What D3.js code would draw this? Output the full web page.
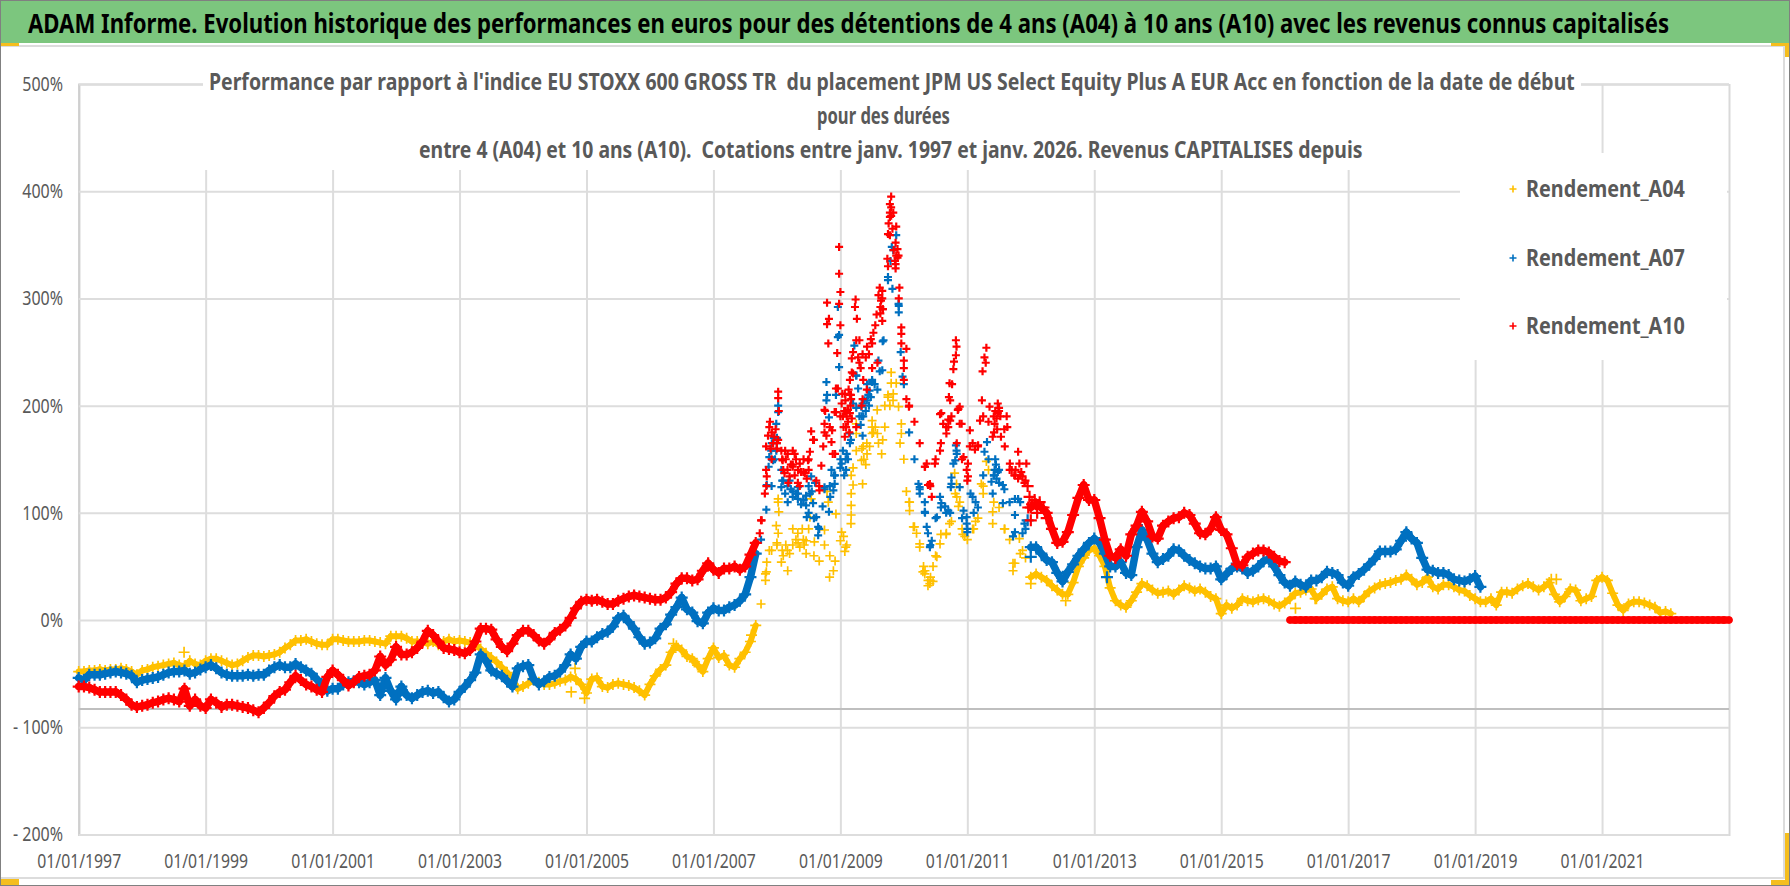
<!DOCTYPE html>
<html lang="fr">
<head>
<meta charset="utf-8">
<title>ADAM Informe</title>
<script src="https://cdn.jsdelivr.net/npm/d3@7"></script>
<style>
  html, body { margin: 0; padding: 0; background: #fff; }
  svg { display: block; }
  text { font-family: "Noto Sans", "Liberation Sans", sans-serif; white-space: pre; }
</style>
</head>
<body>
<svg id="chart"></svg>
<script>
const width = 1790;
const height = 886;

const mainTitle = "ADAM Informe. Evolution historique des performances en euros pour des détentions de 4 ans (A04) à 10 ans (A10) avec les revenus connus capitalisés";
const chartTitle = [
  "Performance par rapport à l'indice EU STOXX 600 GROSS TR  du placement JPM US Select Equity Plus A EUR Acc en fonction de la date de début",
  "pour des durées",
  "entre 4 (A04) et 10 ans (A10).  Cotations entre janv. 1997 et janv. 2026. Revenus CAPITALISES depuis"
];
const seriesNames = ["Rendement_A04", "Rendement_A07", "Rendement_A10"];
const seriesColors = ["#FFC000", "#0070C0", "#FF0000"];
const yTicks = [500, 400, 300, 200, 100, 0, -100, -200];
const xTickYears = [1997, 1999, 2001, 2003, 2005, 2007, 2009, 2011, 2013, 2015, 2017, 2019, 2021];
const firstYear = 1997;
const lastYear = 2023;
const xAxisValue = -83;

// one value per month from Jan 1997, in %
const a04 = [
  -48,-48,-47,-47,-46,-47,-46,-46,-45,-46,-48,-51,
  -47,-46,-44,-43,-42,-41,-40,-42,-43,-38,-41,-42,
  -38,-36,-36,-38,-40,-42,-41,-38,-35,-33,-33,-34,
  -33,-32,-30,-26,-23,-19,-19,-18,-20,-22,-23,-23,
  -18,-18,-19,-20,-20,-20,-19,-19,-20,-21,-22,-15,
  -15,-15,-17,-20,-20,-21,-22,-20,-23,-20,-18,-20,
  -19,-20,-21,-23,-27,-31,-35,-39,-44,-49,-55,-64,
  -62,-59,-56,-58,-60,-60,-59,-57,-56,-53,-55,-60,
  -68,-55,-54,-62,-63,-60,-59,-60,-61,-63,-66,-70,
  -60,-52,-46,-42,-30,-24,-28,-34,-36,-42,-48,-36,
  -26,-35,-33,-42,-44,-36,-30,-20,-5,15,45,65,
  70,65,65,70,72,75,85,60,55,70,60,55,
  74,68,90,158,149,165,180,174,168,208,211,199,
  150,110,87,68,46,37,60,80,80,92,115,85,
  75,85,95,125,140,110,105,85,75,53,62,58,
  40,43,40,37,32,28,24,24,35,50,58,65,
  67,60,50,30,18,14,12,18,26,34,32,28,
  25,26,27,24,28,32,30,27,29,26,22,20,
  6,14,11,14,20,18,17,19,20,18,15,13,
  16,20,25,26,28,29,20,24,29,31,20,18,
  17,20,17,22,27,30,33,34,35,37,38,42,
  38,33,35,40,31,29,33,33,31,28,27,23,
  20,17,17,20,14,26,26,25,29,32,34,31,
  28,31,35,24,17,22,29,28,18,20,22,37,
  40,37,25,14,9,15,17,17,16,14,12,7,
  8,6
];
const a07 = [
  -54,-56,-51,-51,-51,-50,-49,-48,-49,-50,-52,-58,
  -56,-55,-54,-53,-51,-49,-48,-48,-47,-50,-49,-46,
  -44,-42,-45,-49,-51,-52,-52,-52,-51,-52,-51,-51,
  -47,-44,-42,-44,-44,-41,-44,-47,-50,-55,-61,-66,
  -64,-64,-60,-58,-57,-58,-60,-58,-56,-70,-54,-66,
  -74,-62,-70,-73,-70,-67,-66,-68,-67,-72,-76,-74,
  -67,-62,-56,-49,-32,-38,-47,-50,-52,-57,-62,-45,
  -43,-42,-55,-60,-57,-53,-52,-48,-42,-32,-36,-25,
  -20,-20,-16,-13,-11,-6,2,4,-2,-8,-16,-22,
  -21,-17,-8,-4,5,12,21,10,7,-1,-3,7,
  11,9,9,12,14,18,24,40,62,75,103,125,
  165,130,125,120,118,112,125,95,85,122,125,135,
  142,150,168,198,190,205,222,215,260,320,345,295,
  220,175,150,122,100,70,95,105,100,127,155,95,
  85,115,105,135,150,135,140,122,110,82,110,85,
  68,68,62,56,54,44,36,45,52,60,66,72,
  76,72,62,50,50,54,44,42,68,84,75,62,
  54,57,60,66,65,60,56,53,50,48,48,50,
  38,43,48,50,48,44,46,50,55,57,50,42,
  35,32,36,33,31,37,37,40,45,44,42,35,
  32,40,43,47,52,57,64,64,64,66,74,82,
  76,72,58,47,46,44,44,42,38,37,36,38,
  41,31
];
const a10 = [
  -62,-62,-63,-65,-67,-67,-67,-67,-70,-74,-79,-81,
  -80,-79,-77,-76,-74,-73,-74,-76,-64,-80,-74,-80,
  -82,-74,-77,-81,-79,-79,-80,-81,-82,-84,-86,-82,
  -77,-71,-67,-65,-58,-52,-56,-60,-62,-65,-67,-53,
  -47,-51,-56,-61,-58,-53,-52,-51,-47,-34,-42,-37,
  -25,-32,-32,-30,-26,-20,-10,-14,-20,-26,-27,-28,
  -30,-31,-28,-20,-8,-8,-9,-18,-25,-29,-22,-14,
  -10,-10,-14,-19,-22,-18,-12,-9,-5,2,11,17,
  19,18,19,17,15,15,18,20,22,23,22,21,
  20,19,19,21,26,34,39,39,37,38,46,53,
  47,44,48,48,50,47,50,61,72,93,125,150,
  165,150,140,145,140,138,150,168,125,175,180,155,
  190,195,210,180,200,215,235,240,290,330,380,340,
  235,200,185,165,143,125,150,165,180,190,165,150,
  130,165,162,190,185,190,195,178,140,135,135,130,
  105,108,105,100,85,72,73,82,98,114,126,112,
  112,95,75,60,58,66,60,80,88,101,92,78,
  76,88,92,95,96,100,98,90,81,80,85,96,
  84,80,67,52,51,59,62,65,65,63,59,55,
  54,0,0,0,0,0,0,0,0,0,0,0,
  0,0,0,0,0,0,0,0,0,0,0,0,
  0,0,0,0,0,0,0,0,0,0,0,0,
  0,0,0,0,0,0,0,0,0,0,0,0,
  0,0,0,0,0,0,0,0,0,0,0,0,
  0,0,0,0,0,0,0,0,0,0,0,0,
  0,0,0,0,0,0,0,0,0,0,0,0,
  0
];

// scattered points outside the monthly band: [decimal year, %]
const a04Extra = [
  [1998.66,-30],[2004.76,-67],[2004.82,-45],[2004.97,-73],[2006.37,-22],[2006.7,-39],[2007.6,-14],
  [2007.82,37],[2007.82,43],[2007.84,54],[2007.88,65],[2007.99,88],[2008.02,113],[2008.02,110],[2008.03,101],
  [2008.02,81],[2008.07,54],[2008.17,46],[2008.25,85],[2008.33,81],[2008.46,62],[2008.46,74],[2008.52,96],
  [2008.54,113],[2008.59,73],[2008.75,84],[2008.81,110],[2008.79,120],[2008.93,99],[2008.83,40],[2008.89,46],
  [2009.07,64],[2009.17,107],[2009.17,98],[2009.17,118],[2009.2,126],[2009.17,135],[2009.25,183],[2009.25,174],
  [2009.36,162],[2009.46,162],[2009.35,127],[2009.2,142],[2009.58,196],[2009.5,186],[2009.5,174],[2009.7,180],
  [2009.65,155],[2009.8,231],[2009.8,221],[2009.88,221],[2009.7,200],[2009.96,183],[2009.96,174],[2009.94,165],
  [2010.04,120],[2010.09,110],[2010.09,102],[2010.72,90],[2010.8,137],[2010.88,110],[2011.25,118],[2011.4,101],
  [2011.4,90],[2011.22,127],[2011.3,148],[2011.72,53],[2011.72,46],[2012.0,34],[2011.59,85],[2011.87,65],
  [2011.82,76],[2012.55,18],[2016.17,11],[2016.48,20],[2020.2,38],[2020.28,38],
  [2008.0,72],[2008.1,60],[2008.14,70],[2008.2,62],[2008.3,75],[2008.36,68],[2008.4,85],[2008.43,70],
  [2009.02,82],[2009.05,78],[2009.1,70],[2009.34,160],[2009.37,150],[2009.4,145],[2009.42,155],[2009.52,175],
  [2009.55,180],[2009.6,165],[2009.75,210],[2009.78,200],[2009.83,205],[2010.3,45],[2010.38,32],[2010.42,40],
  [2010.46,36],
  [2010.15,87],[2010.2,81],[2010.25,71],[2010.31,50],[2010.33,43],[2010.38,37],[2010.41,34],[2010.46,50],
  [2010.52,59],[2010.57,71],[2010.67,81],[2010.83,127],[2010.81,118],[2010.86,106],[2010.93,80],[2010.96,78],
  [2011.1,85],[2011.13,92]
];
const a07Extra = [
  [2008.02,200],[2008.02,194],[2007.99,183],[2007.87,143],[2007.84,126],[2007.91,158],[2007.88,152],[2007.99,158],
  [2007.94,149],[2008.07,140],[2008.07,124],[2008.17,110],[2008.2,130],[2008.33,124],[2008.33,113],[2008.46,116],
  [2008.46,107],[2008.54,134],[2008.52,118],[2008.47,96],[2008.57,109],[2008.62,96],[2008.65,87],[2008.65,79],
  [2008.72,106],[2008.82,101],[2008.75,124],[2008.78,205],[2008.79,210],[2008.78,222],[2008.93,210],[2008.86,140],
  [2008.91,127],[2008.89,121],[2009.04,158],[2009.02,146],[2009.09,140],[2009.15,165],[2009.15,174],[2009.2,202],
  [2009.33,199],[2009.36,190],[2009.35,172],[2009.46,214],[2009.45,200],[2009.5,224],[2009.62,232],[2009.25,228],
  [2009.28,216],[2008.96,292],[2008.96,264],[2008.98,266],[2008.98,236],[2008.82,189],[2009.22,256],[2009.25,228],
  [2009.66,233],[2009.68,261],[2009.6,242],[2009.54,220],[2009.48,208],[2009.35,202],[2009.75,317],[2009.79,335],
  [2009.81,348],[2009.88,359],[2009.82,309],[2009.92,293],[2009.92,287],[2009.95,250],[2009.98,227],
  [2011.27,157],[2011.31,166],[2010.82,163],[2010.78,146],[2011.4,118],[2011.43,140],[2011.45,145],[2011.38,129],
  [2011.56,126],[2011.56,109],[2011.75,113],[2011.8,113],[2011.75,98],[2011.72,78],[2011.9,90],[2011.87,81],
  [2011.95,93],[2012.0,59],[2013.2,40],
  [2007.92,165],[2007.95,170],[2007.97,150],[2008.0,170],[2008.1,130],[2008.13,118],[2008.22,122],[2008.25,115],
  [2008.3,118],[2008.38,108],[2008.42,112],[2008.5,100],[2008.55,120],[2008.6,128],[2008.84,115],[2008.9,135],
  [2009.0,150],[2009.06,135],[2009.1,155],[2009.12,150],[2009.3,190],[2009.32,182],[2009.38,205],[2009.4,195],
  [2009.42,220],[2009.44,210],[2011.42,135],[2011.46,132],[2011.5,128],[2011.44,150],[2011.48,138],
  [2010.23,127],[2010.25,118],[2010.25,124],[2010.33,110],[2010.33,101],[2010.36,87],[2010.38,81],[2010.41,68],
  [2010.44,74],[2010.52,96],[2010.57,115],[2010.59,109],[2010.65,106],[2010.7,102],[2010.73,100],[2010.74,124],
  [2010.75,133],[2010.81,149],[2010.83,158],[2010.88,124],[2010.94,102],[2010.99,96],[2010.99,90],[2011.0,82],
  [2011.05,118],[2011.1,100],[2011.13,110]
];
const a10Extra = [
  [2007.73,81],[2007.76,93],[2007.81,118],[2007.83,140],[2007.84,134],[2007.83,162],[2007.86,172],[2007.88,180],
  [2007.89,185],[2007.96,171],[2008.02,168],[2008.02,213],[2008.02,207],[2008.03,195],[2008.07,158],[2008.09,149],
  [2008.12,137],[2008.17,155],[2008.2,134],[2008.25,158],[2008.25,143],[2008.36,146],[2008.44,137],[2008.49,149],
  [2008.52,157],[2008.54,176],[2008.57,168],[2008.62,130],[2008.67,121],[2008.7,144],[2008.73,162],[2008.75,196],
  [2008.75,183],[2008.78,172],[2008.86,166],[2008.87,177],[2008.88,155],[2008.91,194],[2008.93,216],[2009.02,202],
  [2009.03,211],[2009.04,190],[2009.07,171],[2009.09,180],[2009.15,210],[2009.15,193],[2009.2,230],
  [2009.8,395],[2009.78,388],[2009.78,380],[2009.78,376],[2009.8,377],[2009.88,367],[2009.75,360],[2009.78,359],
  [2009.87,352],[2009.9,346],[2009.74,337],[2009.9,338],[2009.87,332],[2009.87,328],[2009.93,310],[2009.66,307],
  [2009.6,303],[2009.92,300],[2009.66,300],[2009.63,292],[2009.63,286],[2009.24,299],[2009.23,292],[2009.26,281],
  [2009.55,275],[2009.66,279],[2009.96,273],[2009.96,267],[2009.96,258],[2010.04,253],[2008.98,348],[2008.98,323],
  [2009,306],[2008.98,295],[2008.79,296],[2008.82,281],[2008.79,276],[2009,275],[2008.81,258],[2008.95,249],
  [2009.25,261],[2009.3,261],[2009.18,244],[2009.35,248],[2009.45,248],[2009.5,258],[2009.18,231],[2009.15,224],
  [2009.36,224],[2008.96,216],[2009.07,211],[2009.17,206],[2008.76,195],[2008.93,194],[2009.12,196],[2009.35,206],
  [2010,242],[2010,224],[2010.04,206],[2010.08,199],
  [2010.82,261],[2010.83,255],[2010.82,247],[2010.79,241],[2010.78,234],[2010.76,220],[2010.73,205],[2010.85,196],
  [2010.57,192],[2011.3,254],[2011.27,245],[2011.29,240],[2011.24,232],[2011.23,205],[2010.72,221],[2010.71,208],
  [2010.86,197],[2011.35,199],[2011.2,186],[2010.7,187],[2010.88,183],[2011.48,202],[2011.48,193],[2011.43,183],
  [2011.4,171],[2011.62,190],[2011.63,180],[2011.53,171],[2011.59,162],[2011.8,157],[2011.82,146],[2011.93,146],
  [2011.67,146],[2011.74,135],[2011.87,134],[2011.98,115],[2012.0,93],
  [2008.1,140],[2008.14,150],[2008.18,128],[2008.22,145],[2008.28,135],[2008.3,150],[2008.33,128],[2008.38,138],
  [2008.42,150],[2008.47,132],[2008.5,140],[2008.28,155],[2008.13,158],[2008.36,125],[2007.92,175],[2007.94,165],
  [2007.98,178],[2008.0,160],[2007.9,160],[2009.06,195],[2009.08,205],[2009.1,190],[2009.12,185],[2009.13,215],
  [2009.16,200],[2009.18,188],[2009.05,180],[2009.14,175],[2009.2,250],[2009.28,245],[2009.3,240],[2009.32,235],
  [2009.4,245],[2009.42,255],[2009.48,262],[2009.52,268],[2009.57,285],[2009.62,310],[2009.64,298],[2009.67,290],
  [2009.84,345],[2009.86,335],[2009.88,340],[2009.76,370],[2009.8,385],[2009.82,365],[2011.44,195],[2011.46,188],
  [2011.5,198],[2011.47,178],[2011.52,190],[2011.42,175],[2011.7,140],[2011.76,140],[2011.8,132],[2011.85,138],
  [2011.9,128],[2011.95,125],[2011.96,105],[2012.02,108],[2012.06,112],[2012.1,100],[2012.14,110],[2012.2,105],
  [2012.25,95],
  [2010.33,143],[2010.36,146],[2010.38,126],[2010.41,127],[2010.44,115],[2010.49,146],[2010.57,158],[2010.59,193],
  [2010.62,183],[2010.67,174],[2010.7,180],[2010.73,186],[2010.88,199],[2010.91,183],[2010.94,152],[2010.99,140],
  [2011.04,177],[2011.04,162],[2011.01,146],[2011.01,134],[2011.12,159],[2011.17,163]
];

const monthly = values => values.map((v, i) => [firstYear + i / 12, v]);
const seriesMonthly = [monthly(a04), monthly(a07), monthly(a10)];
const seriesExtra = [a04Extra, a07Extra, a10Extra];

const plotLeft = 78.7, plotRight = 1729, plotTop = 84, plotBottom = 834.5;

const x = d3.scaleLinear().domain([firstYear, lastYear]).range([plotLeft, plotRight]);
const y = d3.scaleLinear().domain([-200, 500]).range([plotBottom, plotTop]);

const svg = d3.select("#chart").attr("width", width).attr("height", height);

// squeeze a text horizontally to the width it has in the picture
function fit(sel, px, py, w) {
  sel.attr("x", 0).attr("y", 0);
  sel.each(function(d, i) {
    const target = typeof w === "function" ? w(d, i) : w;
    const s = target / this.getComputedTextLength();
    const tx = typeof px === "function" ? px(d, i) : px;
    const ty = typeof py === "function" ? py(d, i) : py;
    d3.select(this).attr("transform", `translate(${tx},${ty}) scale(${s},1)`);
  });
}

// page furniture
svg.append("rect").attr("width", width).attr("height", height).attr("fill", "#fff");
svg.append("rect").attr("x", 0).attr("y", 0).attr("width", width).attr("height", 43).attr("fill", "#7CC67E");
svg.append("path").attr("d", "M0,46H1784V878H0").attr("fill", "none").attr("stroke", "#DCDCDC").attr("stroke-width", 2);
svg.append("rect").attr("x", 0.5).attr("y", 0.5).attr("width", width - 1).attr("height", height - 1)
  .attr("fill", "none").attr("stroke", "#808080");
[
  [1, 43, 18, 3], [1771, 43, 18, 3], [1785, 43, 4, 14],
  [1785, 833, 4, 52], [1771, 880, 18, 5], [1, 879, 18, 6]
].forEach(d => {
  svg.append("rect").attr("x", d[0]).attr("y", d[1]).attr("width", d[2]).attr("height", d[3]).attr("fill", "#F5BE1E");
});

svg.append("text")
  .text(mainTitle)
  .attr("font-size", 27).attr("font-weight", "bold").attr("fill", "#000")
  .call(fit, 28, 33, 1642);

// grid
const xAxis = d3.axisBottom(x)
  .tickValues(xTickYears)
  .tickFormat(d => "01/01/" + d)
  .tickSize(-(plotBottom - plotTop))
  .tickPadding(0);
const gx = svg.append("g").attr("transform", `translate(0,${plotBottom})`).call(xAxis);
gx.select(".domain").attr("stroke", "#D9D9D9").attr("stroke-width", 2);
gx.selectAll("line").attr("stroke", "#DDDDDD").attr("stroke-width", 2);
gx.selectAll("text")
  .attr("dy", null)
  .attr("font-size", 20).attr("fill", "#595959")
  .call(fit, 0, 33, 84);

const yAxis = d3.axisLeft(y)
  .tickValues(yTicks)
  .tickFormat(d => (d < 0 ? "- " + Math.abs(d) : d) + "%")
  .tickSize(-(plotRight - plotLeft))
  .tickPadding(0);
const gy = svg.append("g").attr("transform", `translate(${plotLeft},0)`).call(yAxis);
gy.select(".domain").attr("stroke", "#CFCFCF").attr("stroke-width", 2);
gy.selectAll("line").attr("stroke", "#DDDDDD").attr("stroke-width", 2);
gy.selectAll("text")
  .attr("font-size", 20).attr("fill", "#595959")
  .each(function() {
    d3.select(this).call(fit, -15.7, 0, this.getComputedTextLength() * 0.8);
  });

svg.append("line")
  .attr("x1", plotLeft).attr("x2", plotRight)
  .attr("y1", y(xAxisValue)).attr("y2", y(xAxisValue))
  .attr("stroke", "#BFBFBF").attr("stroke-width", 2);

// title and legend boxes hide the grid behind them
svg.append("rect").attr("x", 203).attr("y", 55).attr("width", 1378).attr("height", 115).attr("fill", "#fff");
svg.append("rect").attr("x", 1460).attr("y", 153).attr("width", 267).attr("height", 207).attr("fill", "#fff");

const chartTitleX = [209, 817, 419];
const chartTitleY = [90, 124, 158];
const chartTitleW = [1367, 133, 944];
svg.selectAll(".chart-title")
  .data(chartTitle)
  .enter()
  .append("text")
  .classed("chart-title", true)
  .text(d => d)
  .attr("font-size", 24).attr("font-weight", "bold").attr("fill", "#595959")
  .call(fit, (d, i) => chartTitleX[i], (d, i) => chartTitleY[i], (d, i) => chartTitleW[i]);

// the daily quotes make a solid band where the curve is calm, the 2008-2011 peak stays scattered
const scatterFrom = 2007.7;
const scatterTo = 2011.95;
const maxJoin = 30;
const bandWidth = [6, 7.5, 7.5];
const bandArm = [5.5, 6, 6];
const zeroArm = 3.5;
const markerArm = [4.5, 4, 4];
const markerStroke = [1.7, 2.2, 2.2];
const inScatter = year => year > scatterFrom && year < scatterTo;

seriesMonthly.forEach((points, s) => {
  const g = svg.append("g");
  const segments = d3.pairs(points).filter(p =>
    !inScatter(p[0][0]) && !inScatter(p[1][0]) && Math.abs(p[1][1] - p[0][1]) <= maxJoin
  );
  g.selectAll("line")
    .data(segments)
    .enter()
    .append("line")
    .attr("x1", d => x(d[0][0]))
    .attr("y1", d => y(d[0][1]))
    .attr("x2", d => x(d[1][0]))
    .attr("y2", d => y(d[1][1]))
    .attr("stroke", seriesColors[s])
    .attr("stroke-width", bandWidth[s])
    .attr("stroke-linecap", "round");
  const armOf = d => {
    if (d[1] === 0) return zeroArm;
    return inScatter(d[0]) ? markerArm[s] : bandArm[s];
  };
  g.selectAll("path")
    .data(points.concat(seriesExtra[s]))
    .enter()
    .append("path")
    .attr("d", d => `M${-armOf(d)},0H${armOf(d)}M0,${-armOf(d)}V${armOf(d)}`)
    .attr("transform", d => `translate(${x(d[0])},${y(d[1])})`)
    .attr("fill", "none")
    .attr("stroke", seriesColors[s])
    .attr("stroke-width", markerStroke[s]);
});

// legend
const legendY = [197, 266, 334];
const legend = svg.selectAll(".legend").data(seriesNames).enter().append("g").classed("legend", true);
legend.append("path")
  .attr("d", "M-3.5,0H3.5M0,-3.5V3.5")
  .attr("transform", (d, i) => `translate(1513,${legendY[i] - 8})`)
  .attr("fill", "none")
  .attr("stroke", (d, i) => seriesColors[i])
  .attr("stroke-width", 1.6);
legend.append("text")
  .text(d => d)
  .attr("font-size", 24).attr("font-weight", "bold").attr("fill", "#595959")
  .call(fit, 1526, (d, i) => legendY[i], 159);
</script>
</body>
</html>
